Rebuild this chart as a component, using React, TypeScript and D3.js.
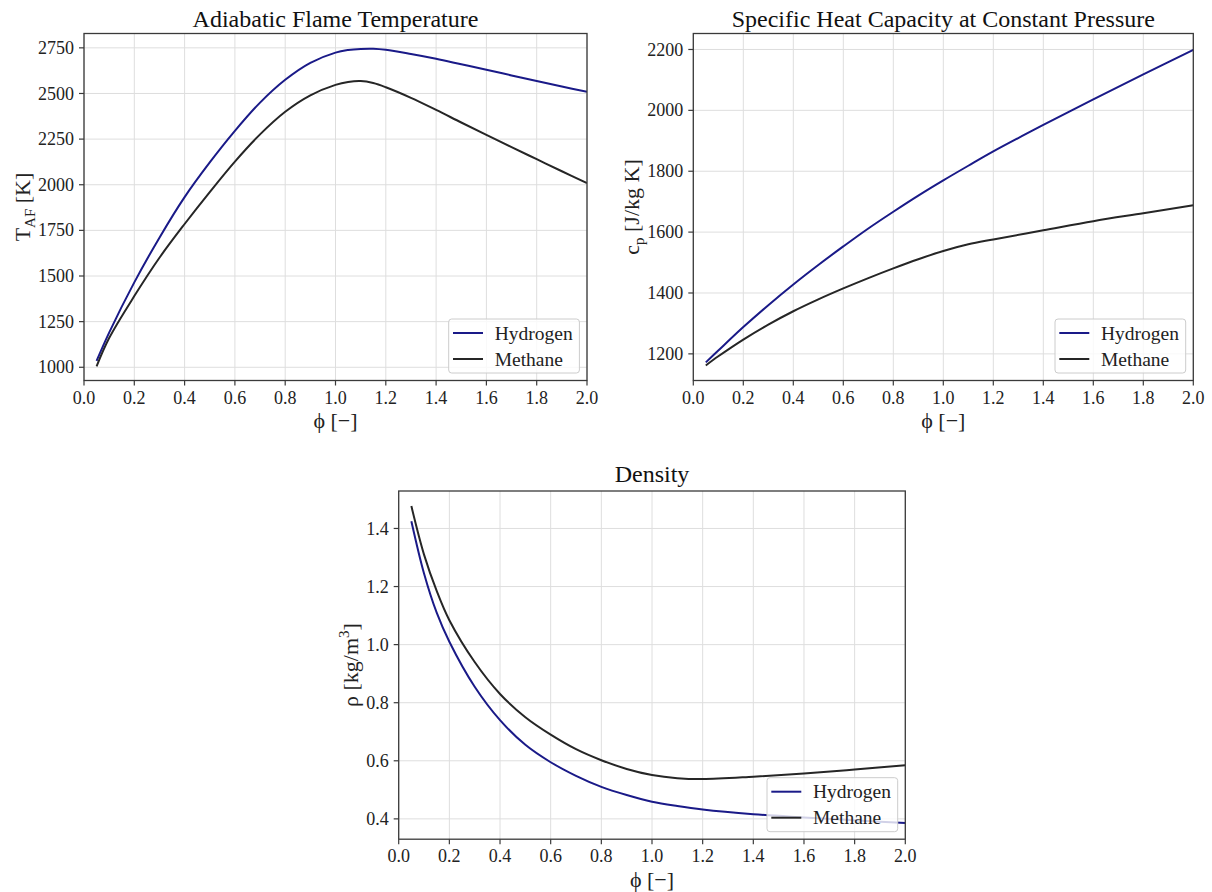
import React from 'react';
import * as d3 from 'd3';

// ---------- data ----------
const phiTaf = [0.05, 0.1, 0.2, 0.3, 0.4, 0.5, 0.6, 0.7, 0.8, 0.9, 1.0, 1.05, 1.1, 1.15, 1.2, 1.3, 1.4, 1.5, 1.6, 1.7, 1.8, 1.9, 2.0];
const tafHydrogen = [1035, 1190, 1465, 1710, 1932, 2122, 2295, 2450, 2575, 2668, 2724, 2738, 2744, 2745, 2739, 2716, 2690, 2660, 2630, 2599, 2568, 2538, 2509];
const tafMethane = [1005, 1160, 1390, 1600, 1785, 1960, 2127, 2276, 2400, 2490, 2547, 2563, 2568, 2557, 2534, 2476, 2410, 2341, 2273, 2206, 2140, 2074, 2009];

const phiCp = [0.05, 0.1, 0.2, 0.3, 0.4, 0.5, 0.6, 0.7, 0.8, 0.9, 1.0, 1.1, 1.2, 1.4, 1.6, 1.8, 2.0];
const cpHydrogen = [1172, 1211, 1288, 1360, 1428, 1492, 1553, 1612, 1667, 1720, 1770, 1818, 1865, 1952, 2036, 2118, 2199];
const cpMethane = [1162, 1192, 1247, 1296, 1340, 1379, 1415, 1449, 1481, 1511, 1538, 1560, 1576, 1606, 1636, 1662, 1688];

const phiRho = [0.05, 0.1, 0.15, 0.2, 0.3, 0.4, 0.5, 0.6, 0.7, 0.8, 0.9, 1.0, 1.1, 1.2, 1.4, 1.6, 1.8, 2.0];
const rhoHydrogen = [1.425, 1.245, 1.11, 1.01, 0.855, 0.74, 0.655, 0.595, 0.548, 0.51, 0.482, 0.459, 0.444, 0.432, 0.416, 0.405, 0.395, 0.386];
const rhoMethane = [1.477, 1.31, 1.185, 1.084, 0.94, 0.83, 0.75, 0.69, 0.64, 0.602, 0.572, 0.551, 0.54, 0.537, 0.545, 0.556, 0.57, 0.585];

const xTicks = [0, 0.2, 0.4, 0.6, 0.8, 1.0, 1.2, 1.4, 1.6, 1.8, 2.0];
const tafTicks = [1000, 1250, 1500, 1750, 2000, 2250, 2500, 2750];
const cpTicks = [1200, 1400, 1600, 1800, 2000, 2200];
const rhoTicks = [0.4, 0.6, 0.8, 1.0, 1.2, 1.4];

const seriesNames = ['Hydrogen', 'Methane'];
const seriesColors = ['#1a1a88', '#262626'];

const FONT = "'Liberation Serif', 'Times New Roman', serif";
const SPINE = '#3a3a3a';
const GRID = '#dedede';

type Box = { l: number; r: number; t: number; b: number };

function Panel(props: {
  id: string;
  box: Box;
  yDomain: [number, number];
  yTicks: number[];
  yFmt: (v: number) => string;
  phi: number[];
  ys: number[][];
  title: string;
  titleY: number;
  ylabel: React.ReactNode;
  ylabelX: number;
}) {
  const { id, box, yDomain, yTicks, yFmt, phi, ys, title, titleY, ylabel, ylabelX } = props;
  const x = d3.scaleLinear().domain([0, 2]).range([box.l, box.r]);
  const y = d3.scaleLinear().domain(yDomain).range([box.b, box.t]);
  const line = d3
    .line<number>()
    .x((_, i) => x(phi[i]))
    .y((d) => y(d))
    .curve(d3.curveCatmullRom.alpha(0.5));
  const cx = (box.l + box.r) / 2;
  const cy = (box.t + box.b) / 2;
  const lw = 130.7;
  const lh = 54;
  const lx = box.r - 7.6 - lw;
  const ly = box.b - 7.5 - lh;
  return (
    <g>
      <defs>
        <clipPath id={`clip-${id}`}>
          <rect x={box.l} y={box.t} width={box.r - box.l} height={box.b - box.t} />
        </clipPath>
      </defs>
      {xTicks.map((t) => (
        <line key={`gx${t}`} x1={x(t)} x2={x(t)} y1={box.t} y2={box.b} stroke={GRID} strokeWidth={1} />
      ))}
      {yTicks.map((t) => (
        <line key={`gy${t}`} x1={box.l} x2={box.r} y1={y(t)} y2={y(t)} stroke={GRID} strokeWidth={1} />
      ))}
      <g clipPath={`url(#clip-${id})`}>
        {ys.map((s, i) => (
          <path key={i} d={line(s) || ''} fill="none" stroke={seriesColors[i]} strokeWidth={2} />
        ))}
      </g>
      <rect x={box.l} y={box.t} width={box.r - box.l} height={box.b - box.t} fill="none" stroke={SPINE} strokeWidth={1.3} />
      {xTicks.map((t) => (
        <g key={`tx${t}`}>
          <line x1={x(t)} x2={x(t)} y1={box.b} y2={box.b + 5} stroke={SPINE} strokeWidth={1.2} />
          <text x={x(t)} y={box.b + 23} textAnchor="middle" fontFamily={FONT} fontSize={18} fill="#222">
            {t.toFixed(1)}
          </text>
        </g>
      ))}
      {yTicks.map((t) => (
        <g key={`ty${t}`}>
          <line x1={box.l - 5} x2={box.l} y1={y(t)} y2={y(t)} stroke={SPINE} strokeWidth={1.2} />
          <text x={box.l - 10} y={y(t)} dy="0.34em" textAnchor="end" fontFamily={FONT} fontSize={18} fill="#222">
            {yFmt(t)}
          </text>
        </g>
      ))}
      <text x={cx} y={titleY} textAnchor="middle" fontFamily={FONT} fontSize={24} fill="#111">
        {title}
      </text>
      <text x={cx} y={box.b + 47.8} textAnchor="middle" fontFamily={FONT} fontSize={22} fill="#222">
        ϕ [−]
      </text>
      <text
        transform={`translate(${ylabelX},${cy}) rotate(-90)`}
        textAnchor="middle"
        fontFamily={FONT}
        fontSize={22}
        fill="#222"
      >
        {ylabel}
      </text>
      <g>
        <rect x={lx} y={ly} width={lw} height={lh} rx={3} fill="#ffffff" fillOpacity={0.8} stroke="#cccccc" strokeWidth={1} />
        {seriesNames.map((n, i) => (
          <g key={n}>
            <line
              x1={lx + 4.3}
              x2={lx + 34.3}
              y1={ly + 14 + i * 26}
              y2={ly + 14 + i * 26}
              stroke={seriesColors[i]}
              strokeWidth={2}
            />
            <text x={lx + 46} y={ly + 14 + i * 26} dy="0.34em" fontFamily={FONT} fontSize={19.5} fill="#222">
              {n}
            </text>
          </g>
        ))}
      </g>
    </g>
  );
}

export default function App() {
  return (
    <svg
      width={1212}
      height={892}
      viewBox="0 0 1212 892"
      style={{ position: 'absolute', left: 0, top: 0, background: '#ffffff' }}
    >
      <rect x={0} y={0} width={1212} height={892} fill="#ffffff" />
      <Panel
        id="taf"
        box={{ l: 84, r: 587, t: 33.5, b: 380.5 }}
        yDomain={[927.5, 2828.6]}
        yTicks={tafTicks}
        yFmt={(v) => String(v)}
        phi={phiTaf}
        ys={[tafHydrogen, tafMethane]}
        title="Adiabatic Flame Temperature"
        titleY={26.5}
        ylabelX={29.5}
        ylabel={
          <>
            <tspan>T</tspan>
            <tspan fontSize={15} dy={5}>AF</tspan>
            <tspan dy={-5}> [K]</tspan>
          </>
        }
      />
      <Panel
        id="cp"
        box={{ l: 693.3, r: 1193.3, t: 33.5, b: 380.5 }}
        yDomain={[1112.5, 2252.5]}
        yTicks={cpTicks}
        yFmt={(v) => String(v)}
        phi={phiCp}
        ys={[cpHydrogen, cpMethane]}
        title="Specific Heat Capacity at Constant Pressure"
        titleY={26.5}
        ylabelX={639}
        ylabel={
          <>
            <tspan>c</tspan>
            <tspan fontSize={15} dy={5}>p</tspan>
            <tspan dy={-5}> [J/kg K]</tspan>
          </>
        }
      />
      <Panel
        id="rho"
        box={{ l: 398.7, r: 905.3, t: 491, b: 839.2 }}
        yDomain={[0.33, 1.529]}
        yTicks={rhoTicks}
        yFmt={(v) => v.toFixed(1)}
        phi={phiRho}
        ys={[rhoHydrogen, rhoMethane]}
        title="Density"
        titleY={482}
        ylabelX={358}
        ylabel={
          <>
            <tspan>ρ [kg/m</tspan>
            <tspan fontSize={15} dy={-9}>3</tspan>
            <tspan dy={9}>]</tspan>
          </>
        }
      />
    </svg>
  );
}
